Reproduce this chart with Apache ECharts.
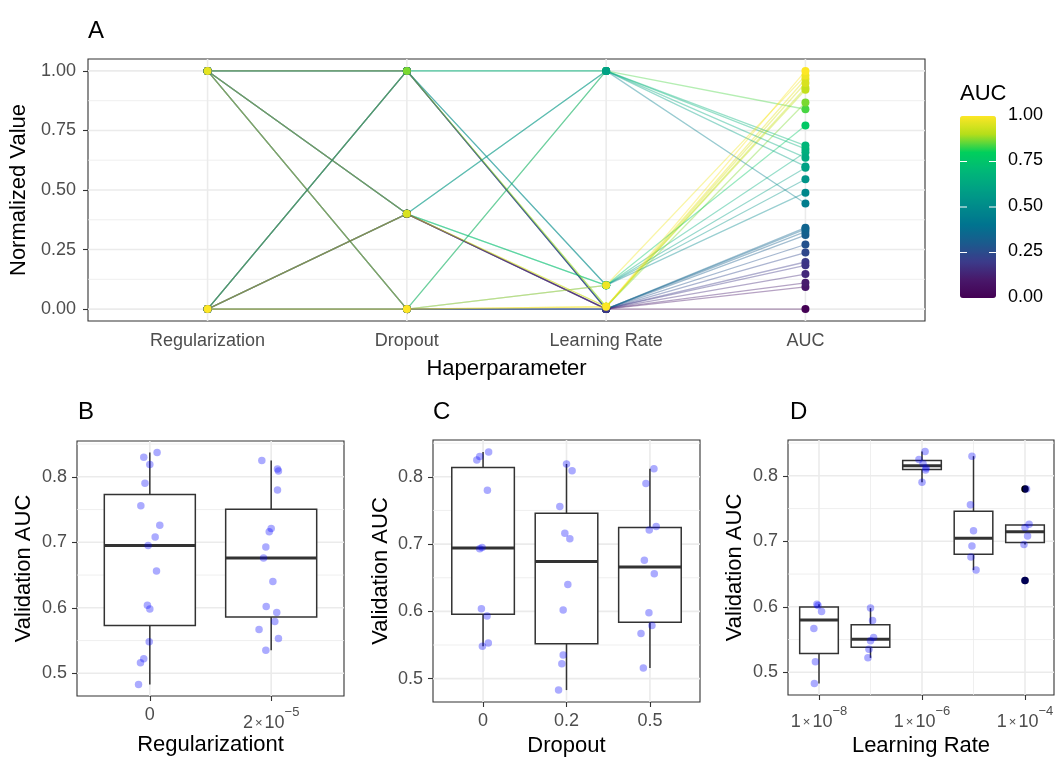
<!DOCTYPE html>
<html>
<head>
<meta charset="utf-8">
<title>Hyperparameter search</title>
<script src="https://cdn.jsdelivr.net/npm/echarts@6/dist/echarts.min.js"></script>
<style>
  html, body { margin: 0; padding: 0; background: #fff; }
  #main { width: 1057px; height: 758px; }
</style>
</head>
<body>
<div id="main"></div>
<script>
// one entry per training run, in the order the runs are drawn
var regularization = [2e-5,2e-5,2e-5,2e-5,2e-5, 2e-5,2e-5,2e-5,2e-5,2e-5, 2e-5,2e-5,2e-5,2e-5,2e-5,
                      0,0,0,0,0, 0,0,0,0,0, 0,0,0,0,0];
var dropout = [0.5,0.5,0.5,0.5,0.5, 0.2,0.2,0.2,0.2,0.2, 0,0,0,0,0,
               0.5,0.5,0.5,0.5,0.5, 0.2,0.2,0.2,0.2,0.2, 0,0,0,0,0];
var learningRate = [1e-4,1e-5,1e-8,1e-7,1e-6, 1e-4,1e-5,1e-8,1e-7,1e-6, 1e-4,1e-5,1e-8,1e-7,1e-6,
                    1e-4,1e-5,1e-8,1e-7,1e-6, 1e-4,1e-5,1e-8,1e-7,1e-6, 1e-4,1e-5,1e-8,1e-7,1e-6];
var auc = [0.721,0.676,0.567,0.579,0.812, 0.640,0.716,0.602,0.535,0.809, 0.780,0.693,0.593,0.553,0.825,
           0.726,0.656,0.516,0.598,0.790, 0.708,0.756,0.483,0.522,0.819, 0.695,0.830,0.604,0.548,0.837];

// horizontal jitter of the points in panels B, C (category units) and D (decades)
var jitterB = [0,-0.063,-0.1,0.03,0.052, 0.014,-0.016,-0.041,-0.044,0.06, 0.052,-0.044,0.046,0.06,-0.077,
               0.082,0.055,-0.077,0,-0.04, 0.044,-0.074,-0.093,-0.05,0, -0.014,-0.05,-0.02,-0.005,0.06];
var jitterC = [-0.008,-0.067,-0.107,0.024,0.048, 0.016,-0.02,-0.04,-0.04,0.067, 0.052,-0.04,0.048,0.063,-0.075,
               0.075,0.052,-0.079,-0.012,-0.048, 0.04,-0.08,-0.095,-0.056,0, -0.012,-0.04,-0.02,-0.008,0.067];
var jitterD = [0,-0.05,-0.1,0.04,0.08, 0,0,-0.02,-0.03,0.07, 0.03,-0.03,0.05,0.06,-0.06,
               0.08,0.05,-0.07,0,0, 0.05,-0.06,-0.09,-0.05,0.02, -0.02,-0.03,-0.04,0,0.06];

var parcoordAxes = ['Regularization', 'Dropout', 'Learning Rate', 'AUC'];
var regLevels = [0, 2e-5];
var regLabels = ['0', '{b|2}{m|\u00d7}{b|10}{s|\u22125}'];
var dropoutLevels = [0, 0.2, 0.5];
var lrLevels = [1e-8, 1e-7, 1e-6, 1e-5, 1e-4];
var normTicks = [0, 0.25, 0.5, 0.75, 1];
var aucTicks = [0.5, 0.6, 0.7, 0.8];
var lrTicks = [-8, -6, -4];
var viridis = ['#440154', '#48186a', '#3b3b8a', '#1b5a8d', '#00738f', '#008a8b',
               '#00a184', '#00b877', '#00cf5c', '#b5de1a', '#fde725'];

var FONT = '"Liberation Sans", Arial, sans-serif';
var INK = '#333333', TICKTXT = '#4d4d4d', GRIDC = '#ebebeb';

function scale01(arr) {
  var lo = Math.min.apply(null, arr), hi = Math.max.apply(null, arr);
  return arr.map(function (v) { return (v - lo) / (hi - lo); });
}
var regN = scale01(regularization), dropN = scale01(dropout),
    lrN = scale01(learningRate), aucN = scale01(auc);

// ggplot-style (type 7) box statistics
function quantile(s, p) {
  var h = (s.length - 1) * p, lo = Math.floor(h);
  var hiV = lo + 1 < s.length ? s[lo + 1] : s[lo];
  return s[lo] + (h - lo) * (hiV - s[lo]);
}
function boxStats(vals) {
  var s = vals.slice().sort(function (a, b) { return a - b; });
  var q1 = quantile(s, 0.25), med = quantile(s, 0.5), q3 = quantile(s, 0.75), iqr = q3 - q1;
  var inside = s.filter(function (v) { return v >= q1 - 1.5 * iqr && v <= q3 + 1.5 * iqr; });
  var out = s.filter(function (v) { return v < q1 - 1.5 * iqr || v > q3 + 1.5 * iqr; });
  return { box: [inside[0], q1, med, q3, inside[inside.length - 1]], out: out };
}

var aucLo = Math.min.apply(null, auc), aucHi = Math.max.apply(null, auc);
var aucPad = (aucHi - aucLo) * 0.05;

var series = [];
var xAxes = [], yAxes = [], grids = [];

function gridLineSeries(g, hMajor, hMinor, vMajor, vMinor) {
  var data = [];
  hMinor.forEach(function (v) { data.push([0, v, 0]); });
  vMinor.forEach(function (v) { data.push([1, v, 0]); });
  hMajor.forEach(function (v) { data.push([0, v, 1]); });
  vMajor.forEach(function (v) { data.push([1, v, 1]); });
  series.push({
    type: 'custom', xAxisIndex: g, yAxisIndex: g, silent: true, z: 1, data: data,
    renderItem: function (params, api) {
      var cs = params.coordSys, dir = api.value(0), v = api.value(1);
      var w = api.value(2) ? 1.6 : 0.8, shape;
      if (dir === 0) {
        var y = api.coord([0, v])[1];
        shape = { x1: cs.x, y1: y, x2: cs.x + cs.width, y2: y };
      } else {
        var x = api.coord([v, 0])[0];
        shape = { x1: x, y1: cs.y, x2: x, y2: cs.y + cs.height };
      }
      return { type: 'line', shape: shape, style: { stroke: GRIDC, lineWidth: w } };
    }
  });
}

function makeBoxRender(half) {
  return function (params, api) {
    var x = api.value(0);
    var lo = api.coord([x - half, api.value(2)]), hi = api.coord([x + half, api.value(4)]);
    var wMin = api.coord([x, api.value(1)]), wMax = api.coord([x, api.value(5)]);
    var med = api.coord([x, api.value(3)])[1];
    var st = { stroke: INK, lineWidth: 1.5, fill: null };
    return {
      type: 'group', children: [
        { type: 'line', shape: { x1: wMin[0], y1: wMin[1], x2: wMin[0], y2: lo[1] }, style: st },
        { type: 'line', shape: { x1: wMax[0], y1: hi[1], x2: wMax[0], y2: wMax[1] }, style: st },
        { type: 'rect', shape: { x: lo[0], y: hi[1], width: hi[0] - lo[0], height: lo[1] - hi[1] },
          style: { stroke: INK, lineWidth: 1.5, fill: '#fff' } },
        { type: 'line', shape: { x1: lo[0], y1: med, x2: hi[0], y2: med },
          style: { stroke: INK, lineWidth: 3 } }
      ]
    };
  };
}

function axisCommon(ticks, fmt, extra) {
  var a = {
    type: 'value',
    axisLine: { show: false },
    axisTick: { show: true, length: 5, customValues: ticks, lineStyle: { color: INK, width: 1.1 } },
    axisLabel: { customValues: ticks, formatter: fmt, color: TICKTXT, fontSize: 18, fontFamily: FONT, margin: 10 },
    splitLine: { show: false },
    nameLocation: 'middle',
    nameTextStyle: { fontSize: 22, color: '#000', fontFamily: FONT }
  };
  for (var k in extra) a[k] = extra[k];
  return a;
}

var supRich = {
  b: { fontSize: 18, color: TICKTXT, lineHeight: 34, fontFamily: FONT },
  m: { fontSize: 13, color: TICKTXT, lineHeight: 34, fontFamily: FONT, padding: [0, 2, 0, 2] },
  s: { fontSize: 13, color: TICKTXT, lineHeight: 14, verticalAlign: 'top', fontFamily: FONT }
};

// ---------- panel A: parallel coordinates ----------
grids.push({ left: 88, top: 59, width: 837, height: 262, show: true, borderColor: INK, borderWidth: 1.1 });
xAxes.push(axisCommon([1, 2, 3, 4], function (v) { return parcoordAxes[Math.round(v) - 1]; },
  { gridIndex: 0, min: 0.4, max: 4.6, name: 'Haperparameter', nameGap: 37 }));
yAxes.push(axisCommon(normTicks, function (v) { return v.toFixed(2); },
  { gridIndex: 0, min: -0.05, max: 1.05, name: 'Normalized Value', nameGap: 52 }));
xAxes[0].axisLabel.margin = 11;
yAxes[0].axisLabel.margin = 12;
gridLineSeries(0, normTicks, [0.125, 0.375, 0.625, 0.875], [1, 2, 3, 4], []);

for (var i = 0; i < auc.length; i++) {
  series.push({
    type: 'line', xAxisIndex: 0, yAxisIndex: 0, silent: true, z: 2,
    showSymbol: false, symbol: 'none',
    data: [[1, regN[i]], [2, dropN[i]], [3, lrN[i]], [4, aucN[i]]],
    lineStyle: { color: echarts.color.lerp(aucN[i], viridis), width: 1.3, opacity: 0.4 }
  });
}
var pts = [];
for (var i = 0; i < auc.length; i++) {
  pts.push([1, regN[i], aucN[i]], [2, dropN[i], aucN[i]], [3, lrN[i], aucN[i]], [4, aucN[i], aucN[i]]);
}
var ptsIndex = series.length;
series.push({ type: 'scatter', xAxisIndex: 0, yAxisIndex: 0, silent: true, z: 3,
  symbolSize: 8, data: pts, itemStyle: { opacity: 1 } });

// ---------- panels B, C, D: box plots ----------
function boxPanel(g, groupOf, posOf, jitter, half) {
  gridLineSeries(g, aucTicks, [0.55, 0.65, 0.75, 0.85], g === 3 ? lrTicks : posOf.major,
    g === 3 ? [-7, -5] : []);
  var groups = {};
  auc.forEach(function (v, i) {
    var k = groupOf(i);
    (groups[k] = groups[k] || []).push(v);
  });
  var boxes = [], outl = [];
  Object.keys(groups).forEach(function (k) {
    var x = posOf.pos(+k), st = boxStats(groups[k]);
    boxes.push([x].concat(st.box));
    st.out.forEach(function (v) { outl.push([x, v]); });
  });
  series.push({ type: 'custom', xAxisIndex: g, yAxisIndex: g, silent: true, z: 2,
    renderItem: makeBoxRender(half), encode: { x: 0, y: [1, 2, 3, 4, 5] }, data: boxes });
  series.push({ type: 'scatter', xAxisIndex: g, yAxisIndex: g, silent: true, z: 3,
    symbolSize: 7.5, data: outl, itemStyle: { color: '#000', opacity: 1 } });
  series.push({ type: 'scatter', xAxisIndex: g, yAxisIndex: g, silent: true, z: 4, symbolSize: 7.5,
    data: auc.map(function (v, i) { return [posOf.pos(groupOf(i)) + jitter[i], v]; }),
    itemStyle: { color: '#0000ff', opacity: 0.33 } });
}

function aucAxis(g, gap) {
  return axisCommon(aucTicks, function (v) { return v.toFixed(1); },
    { gridIndex: g, min: aucLo - aucPad, max: aucHi + aucPad, name: 'Validation AUC', nameGap: gap });
}

// B
grids.push({ left: 77, top: 441, width: 267, height: 255, show: true, borderColor: INK, borderWidth: 1.1 });
xAxes.push(axisCommon([1, 2], function (v) { return regLabels[Math.round(v) - 1]; },
  { gridIndex: 1, min: 0.4, max: 2.6, name: 'Regularizationt', nameGap: 38 }));
xAxes[1].axisLabel.rich = supRich;
yAxes.push(aucAxis(1, 42));
boxPanel(1, function (i) { return regularization[i]; },
  { pos: function (v) { return regLevels.indexOf(v) + 1; }, major: [1, 2] }, jitterB, 0.375);

// C
grids.push({ left: 433, top: 440, width: 267, height: 263, show: true, borderColor: INK, borderWidth: 1.1 });
xAxes.push(axisCommon([1, 2, 3], function (v) { return String(dropoutLevels[Math.round(v) - 1]); },
  { gridIndex: 2, min: 0.4, max: 3.6, name: 'Dropout', nameGap: 33 }));
yAxes.push(aucAxis(2, 41));
boxPanel(2, function (i) { return dropout[i]; },
  { pos: function (v) { return dropoutLevels.indexOf(v) + 1; }, major: [1, 2, 3] }, jitterC, 0.375);

// D (log10 learning rate)
grids.push({ left: 788, top: 440, width: 266, height: 256, show: true, borderColor: INK, borderWidth: 1.1 });
xAxes.push(axisCommon(lrTicks, function (v) { return '{b|1}{m|\u00d7}{b|10}{s|\u2212' + Math.abs(Math.round(v)) + '}'; },
  { gridIndex: 3, min: -8.602, max: -3.437, name: 'Learning Rate', nameGap: 40 }));
xAxes[3].axisLabel.rich = supRich;
yAxes.push(aucAxis(3, 42));
boxPanel(3, function (i) { return learningRate[i]; },
  { pos: function (v) { return Math.log10(v); }, major: lrTicks }, jitterD, 0.375);

// ---------- labels, colour bar ----------
var graphics = [];
[['A', 88, 32], ['B', 78, 413], ['C', 433, 413], ['D', 790, 413]].forEach(function (p) {
  graphics.push({ type: 'text', left: p[1], top: p[2] - 13,
    style: { text: p[0], fontSize: 24, fill: '#000', font: '24px ' + FONT } });
});
graphics.push({ type: 'text', left: 960, top: 83, style: { text: 'AUC', fill: '#000', font: '22px ' + FONT } });
normTicks.forEach(function (t) {
  var y = 116 + (1 - t) * 182;
  graphics.push({ type: 'text', left: 1008, top: y - 10,
    style: { text: t.toFixed(2), fill: '#000', font: '18px ' + FONT } });
  if (t > 0 && t < 1) {
    graphics.push({ type: 'line', shape: { x1: 960, y1: y, x2: 967, y2: y }, style: { stroke: '#fff', lineWidth: 1 }, z: 100 });
    graphics.push({ type: 'line', shape: { x1: 989, y1: y, x2: 996, y2: y }, style: { stroke: '#fff', lineWidth: 1 }, z: 100 });
  }
});

var chart = echarts.init(document.getElementById('main'), null, { renderer: 'canvas' });
chart.setOption({
  animation: false,
  backgroundColor: '#ffffff',
  textStyle: { fontFamily: FONT },
  grid: grids,
  xAxis: xAxes,
  yAxis: yAxes,
  visualMap: {
    type: 'continuous', min: 0, max: 1, dimension: 2, seriesIndex: ptsIndex,
    inRange: { color: viridis }, calculable: false, realtime: false,
    itemWidth: 36, itemHeight: 182, left: 960, top: 116, padding: 0,
    orient: 'vertical', text: null, hoverLink: false
  },
  graphic: graphics,
  series: series
});
</script>
</body>
</html>
